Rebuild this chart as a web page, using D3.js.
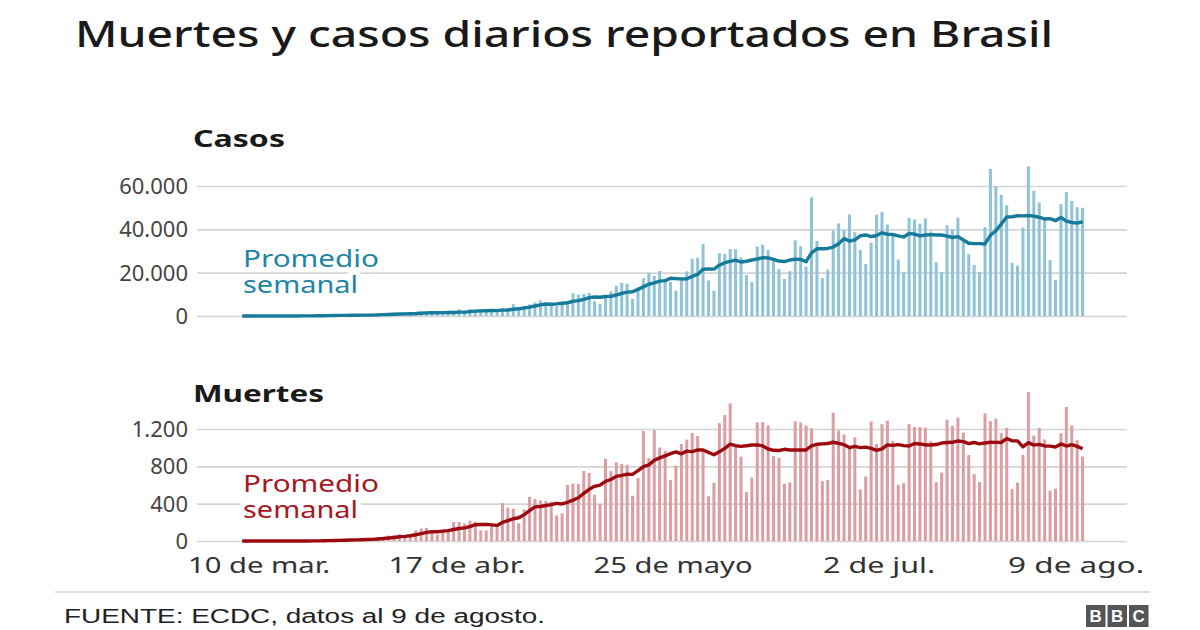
<!DOCTYPE html>
<html><head><meta charset="utf-8">
<script src="https://cdn.jsdelivr.net/npm/d3@7"></script>
<style>
body{margin:0;background:#fff}
svg{display:block;font-family:"Noto Sans","Open Sans",sans-serif}
</style>
</head><body>
<svg id="c" width="1200" height="630"></svg>
<script>
// ---- data (daily, starting 7 Mar 2020, ECDC report dates) ----
const startDate = new Date(2020, 2, 7);
const endDate = new Date(2020, 7, 9);
const casos = [
  6, 0, 5,
  5, 9, 18, 25, 21, 23, 79, 34, 57, 137, 193, 283, 224, 418, 345, 310, 232, 482, 502, 487, 352, 323,
  1138, 1119, 1074, 1146, 1222, 852, 926, 1661, 2210, 1930, 1781, 1089, 1442, 1261, 1832, 3058, 2105, 3257, 2917, 2055, 1927, 2498, 2678, 3735, 3503, 5514, 3379, 4613, 5385, 6276,
  7218, 6209, 4970, 4588, 6633, 6935, 10503, 9888, 10222, 10611, 6760, 5632, 9258, 11385, 13944, 15305, 14919, 7938, 13140, 17408, 19951, 18508, 20803, 16508, 15813, 11687, 16324, 20599, 26417, 26928, 33274,
  16409, 11598, 28936, 28633, 30925, 30830, 27075, 18912, 15654, 32091, 32913, 30412, 25982, 21704, 17110, 20647, 34918, 32188, 22765, 54771, 34666, 17459, 21432, 39436, 42725, 39483, 46907, 38693, 30476, 24052,
  33846, 46712, 48105, 42223, 37923, 26051, 20229, 45305, 44571, 42619, 45048, 39023, 24831, 20286, 41857, 39924, 45403, 34177, 28532, 23529, 20257, 41008, 67860, 59961, 55891, 51147, 24578, 23284, 40816, 69074, 57837,
  52383, 45392, 25800, 16641, 51603, 57152, 53139, 50230, 49970
];
const muertes = [
  0, 0, 0, 0, 0, 0, 0, 0, 0, 0, 0,
  1, 3, 3, 4, 7, 7, 9, 12, 11, 20, 15, 22, 22, 23, 42,
  40, 58, 60, 73, 54, 67, 114, 133, 141, 115, 68, 99, 105, 204, 204, 188, 217, 206, 115, 113, 166, 165, 407, 357, 346, 189, 338, 474, 449, 435,
  428, 421, 275, 296, 600, 615, 610, 751, 730, 496, 396, 881, 749, 844, 824, 816, 485, 674, 1179, 888, 1188, 1001, 965, 653, 807, 1039, 1086, 1156, 1124, 956, 480,
  623, 1262, 1349, 1473, 1005, 904, 525, 679, 1272, 1274, 1239, 909, 892, 612, 627, 1282, 1269, 1238, 1206, 1022, 641, 654, 1374, 1185, 1141, 990, 1109, 552, 692, 1280,
  1038, 1252, 1290, 1071, 602, 620, 1254, 1223, 1220, 1214, 1071, 631, 733, 1300, 1233, 1322, 1163, 921, 716, 632, 1367, 1284, 1311, 1156, 1211, 555, 627, 921, 1595, 1129, 1212,
  1088, 541, 561, 1154, 1437, 1237, 1079, 905
];
const casosTicks = [0, 20000, 40000, 60000];
const muertesTicks = [0, 400, 800, 1200];
const xTickDates = [new Date(2020,2,10), new Date(2020,3,17), new Date(2020,4,25), new Date(2020,6,2), new Date(2020,7,9)];
const xTickLabels = ["10 de mar.", "17 de abr.", "25 de mayo", "2 de jul.", "9 de ago."];

// ---- layout / style ----
const xLabelWidths = [142, 137, 159, 112, 136];
const xLabelShift = [0, -8, 2, 2, -7];
const svg = d3.select("#c");
const fmt = d3.formatLocale({decimal: ",", thousands: ".", grouping: [3], currency: ["", ""]}).format(",d");
const dates = casos.map((_, i) => d3.timeDay.offset(startDate, i));
const x = d3.scaleTime().domain([startDate, endDate]).range([242.2, 1082.6]);
const rolling = v => v.map((_, i) => d3.mean(v.slice(Math.max(0, i - 6), i + 1)));

function txt(xp, yp, s, size, weight, color, width, anchor) {
  const t = svg.append("text").attr("x", xp).attr("y", yp).text(s)
    .attr("font-size", size).attr("font-weight", weight).attr("fill", color)
    .attr("text-anchor", anchor || "start");
  if (width) t.attr("textLength", width).attr("lengthAdjust", "spacingAndGlyphs");
  return t;
}

txt(75, 47, "Muertes y casos diarios reportados en Brasil", 36, 500, "#1a1a1a", 978);

function panel(values, y, ticks, cfg) {
  const g = svg.append("g");
  const ax = g.append("g").attr("transform", "translate(197,0)")
    .call(d3.axisLeft(y).tickValues(ticks).tickFormat(fmt).tickSize(-930).tickPadding(9));
  ax.attr("font-family", null).attr("font-size", null);
  ax.select(".domain").remove();
  ax.selectAll(".tick line").attr("stroke", "#d4d4d4").attr("stroke-width", 1.6);
  ax.selectAll(".tick text").attr("font-size", 22).attr("fill", "#444").attr("dy", "0.34em");

  txt(193, cfg.titleY, cfg.title, 24, 700, "#1a1a1a", cfg.titleW);

  g.append("g").selectAll("rect").data(values).join("rect")
    .attr("x", (d, i) => x(dates[i]) - 1.5)
    .attr("width", 3)
    .attr("y", d => y(d))
    .attr("height", d => y(0) - y(d))
    .attr("fill", cfg.bar);

  const avg = rolling(values);
  g.append("path").datum(avg)
    .attr("fill", "none").attr("stroke", cfg.line).attr("stroke-width", 3.4)
    .attr("stroke-linejoin", "round")
    .attr("d", d3.line().x((d, i) => x(dates[i])).y(d => y(d)));

  const lab = svg.append("text").attr("font-size", 24).attr("fill", cfg.text)
    .attr("stroke", "#fff").attr("stroke-width", 9).attr("paint-order", "stroke")
    .attr("stroke-linejoin", "round");
  lab.append("tspan").attr("x", 243).attr("y", cfg.labY).text("Promedio")
    .attr("textLength", 136).attr("lengthAdjust", "spacingAndGlyphs");
  lab.append("tspan").attr("x", 243).attr("y", cfg.labY + 26).text("semanal")
    .attr("textLength", 115).attr("lengthAdjust", "spacingAndGlyphs");
}

const yC = d3.scaleLinear().domain([0, 60000]).range([316, 186]);
const yM = d3.scaleLinear().domain([0, 1200]).range([541, 429]);

panel(casos, yC, casosTicks, {title: "Casos", titleY: 147, titleW: 92, bar: "#8fc3d7", line: "#167a9b", text: "#2184a6", labY: 267});
panel(muertes, yM, muertesTicks, {title: "Muertes", titleY: 402, titleW: 131, bar: "#dc9ea3", line: "#9c0a10", text: "#a8171d", labY: 492});

const xa = svg.append("g").attr("transform", "translate(0,541)")
  .call(d3.axisBottom(x).tickValues(xTickDates).tickFormat((d, i) => xTickLabels[i]).tickSize(0).tickPadding(16));
xa.attr("font-family", null).attr("font-size", null);
xa.select(".domain").remove();
xa.selectAll(".tick text").attr("font-size", 22).attr("fill", "#333")
  .attr("dx", (d, i) => xLabelShift[i])
  .attr("textLength", (d, i) => xLabelWidths[i]).attr("lengthAdjust", "spacingAndGlyphs");

// footer
svg.append("line").attr("x1", 55).attr("x2", 1150).attr("y1", 592).attr("y2", 592)
  .attr("stroke", "#bdbdbd").attr("stroke-width", 1);
txt(64, 623, "FUENTE: ECDC, datos al 9 de agosto.", 20, 400, "#222", 481)
  .style("font-family", "'Liberation Sans',Arial,sans-serif");
["B", "B", "C"].forEach((l, i) => {
  const bx = 1086 + i * 21.5;
  svg.append("rect").attr("x", bx).attr("y", 605).attr("width", 19.5).attr("height", 22).attr("fill", "#555");
  svg.append("text").attr("x", bx + 9.75).attr("y", 622).attr("text-anchor", "middle")
    .attr("font-size", 17).attr("font-weight", 700).attr("fill", "#fff")
    .style("font-family", "'Liberation Sans',Arial,sans-serif").text(l);
});
</script>
</body></html>
